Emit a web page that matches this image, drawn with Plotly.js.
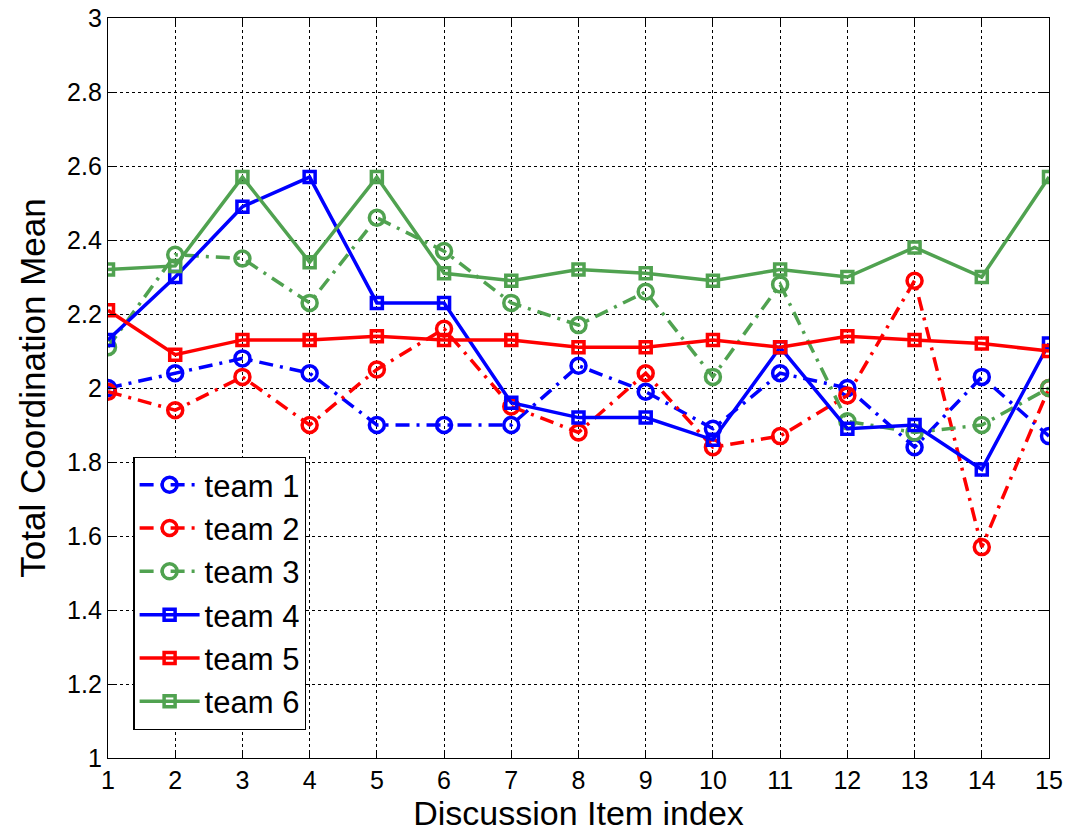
<!DOCTYPE html>
<html><head><meta charset="utf-8">
<script src="https://cdn.plot.ly/plotly-3.0.1.min.js"></script>
<style>html,body{margin:0;padding:0;background:#fff}</style>
</head><body>
<div id="chart" style="width:1071px;height:832px"></div>
<script>
const items = [1,2,3,4,5,6,7,8,9,10,11,12,13,14,15];
const team1 = [2.00,2.04,2.08,2.04,1.90,1.90,1.90,2.06,1.99,1.89,2.04,2.00,1.84,2.03,1.87];
const team2 = [1.99,1.94,2.03,1.90,2.05,2.16,1.95,1.88,2.04,1.84,1.87,1.98,2.29,1.57,2.00];
const team3 = [2.11,2.36,2.35,2.23,2.46,2.37,2.23,2.17,2.26,2.03,2.28,1.91,1.88,1.90,2.00];
const team4 = [2.13,2.30,2.49,2.57,2.23,2.23,1.96,1.92,1.92,1.86,2.11,1.89,1.90,1.78,2.12];
const team5 = [2.21,2.09,2.13,2.13,2.14,2.13,2.13,2.11,2.11,2.13,2.11,2.14,2.13,2.12,2.10];
const team6 = [2.32,2.33,2.57,2.34,2.57,2.31,2.29,2.32,2.31,2.29,2.32,2.30,2.38,2.30,2.57];
const names = ['team 1','team 2','team 3','team 4','team 5','team 6'];
const yTicks = [1,1.2,1.4,1.6,1.8,2,2.2,2.4,2.6,2.8,3];
const yTickText = ['1','1.2','1.4','1.6','1.8','2','2.2','2.4','2.6','2.8','3'];

const BLUE = 'rgb(0,0,255)', RED = 'rgb(255,0,0)', GREEN = 'rgb(80,162,80)';
const dd = '14px,7px,3px,7px';
function tr(y, name, color, dash, sym){
  return {x: items, y: y, name: name, type: 'scatter', mode: 'lines+markers',
    line: {color: color, width: 3.5, dash: dash},
    marker: {symbol: sym, size: sym === 'circle-open' ? 15 : 11, color: color, line: {color: color, width: 3.5}}};
}
const data = [
  tr(team1, names[0], BLUE, dd, 'circle-open'),
  tr(team2, names[1], RED, dd, 'circle-open'),
  tr(team3, names[2], GREEN, dd, 'circle-open'),
  tr(team4, names[3], BLUE, 'solid', 'square-open'),
  tr(team5, names[4], RED, 'solid', 'square-open'),
  tr(team6, names[5], GREEN, 'solid', 'square-open')
];
const layout = {
  width: 1071, height: 832,
  margin: {l: 108, r: 22, t: 18, b: 74},
  paper_bgcolor: '#fff', plot_bgcolor: '#fff',
  font: {family: 'Liberation Sans, Arial, sans-serif', color: '#000'},
  showlegend: true,
  legend: {x: 0.027, y: 0.038, xanchor: 'left', yanchor: 'bottom',
    bgcolor: '#fff', bordercolor: '#000', borderwidth: 1.2,
    font: {size: 31, family: 'Liberation Sans, Arial, sans-serif'},
    itemwidth: 60, tracegroupgap: 0},
  xaxis: {range: [1, 15], tickvals: items, ticktext: items.map(String),
    showgrid: true, gridcolor: '#000', griddash: 'dot', gridwidth: 1,
    showline: true, linecolor: '#000', linewidth: 1.2, mirror: 'ticks',
    ticks: 'inside', ticklen: 8, tickcolor: '#000', zeroline: false,
    tickfont: {size: 25}, title: {text: 'Discussion Item index', font: {size: 34}, standoff: 4}},
  yaxis: {range: [1, 3], tickvals: yTicks, ticktext: yTickText,
    showgrid: true, gridcolor: '#000', griddash: 'dot', gridwidth: 1,
    showline: true, linecolor: '#000', linewidth: 1.2, mirror: 'ticks',
    ticks: 'inside', ticklen: 8, tickcolor: '#000', zeroline: false,
    tickfont: {size: 25}, title: {text: 'Total Coordination Mean', font: {size: 35}, standoff: 10}}
};
Plotly.newPlot('chart', data, layout, {displayModeBar: false, staticPlot: true});
</script>
</body></html>
